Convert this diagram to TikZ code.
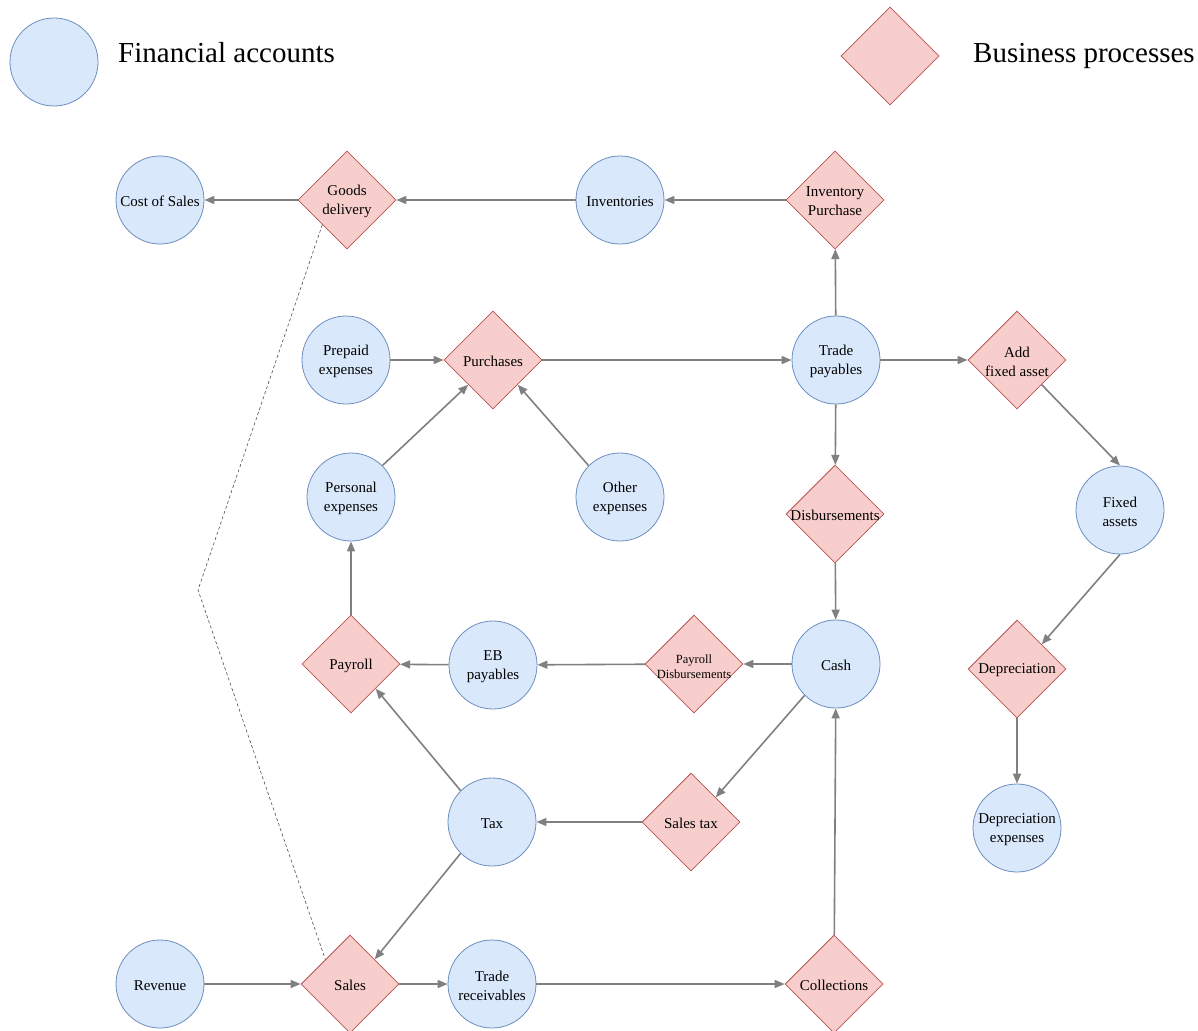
\documentclass[tikz,border=0pt]{standalone}
\usepackage{fontspec}
\setmainfont{Liberation Serif}
\usetikzlibrary{shapes.geometric,arrows.meta}
\definecolor{accfill}{HTML}{DAE8FC}
\definecolor{accdraw}{HTML}{6C8EBF}
\definecolor{procfill}{HTML}{F8CECC}
\definecolor{procdraw}{HTML}{B85450}
\definecolor{edgegray}{HTML}{808080}
\begin{document}
\begin{tikzpicture}[x=1pt,y=-1pt,
 acct/.style={circle,fill=accfill,draw=accdraw,line width=0.8pt,minimum size=88pt,inner sep=0pt},
 proc/.style={diamond,aspect=1,fill=procfill,draw=procdraw,line width=0.8pt,minimum size=98pt,inner sep=0pt},
 txt/.style={font=\fontsize{15}{19}\selectfont,align=center,inner sep=0pt,yshift=-1.5pt},
 smalltxt/.style={font=\fontsize{12.5}{15}\selectfont,align=center,inner sep=0pt,yshift=-3pt},
 legtxt/.style={font=\fontsize{29}{34}\selectfont,inner sep=0pt},
 flow/.style={draw=edgegray,line width=1.6pt,-{Triangle[length=10pt,width=8pt]}},
 link/.style={draw=black!70,line width=0.6pt,dash pattern=on 3pt off 2.5pt}]
\useasboundingbox (0,0) rectangle (1198,1030);
% legend
\node[acct] (legacc) at (54,62) {};
\node[legtxt,anchor=base west] (legacctxt) at (118,63) {Financial accounts};
\node[proc] (legproc) at (890,56) {};
\node[legtxt,anchor=base west] (legproctxt) at (973,63) {Business processes};
% nodes
\node[acct,label={[txt]center:Cost of Sales}] (cos) at (160,200) {};
\node[proc,label={[txt]center:Goods\\delivery}] (gd) at (347,200) {};
\node[acct,label={[txt]center:Inventories}] (inv) at (620,200) {};
\node[proc,label={[txt]center:Inventory\\Purchase}] (ip) at (835,200) {};
\node[acct,label={[txt]center:Prepaid\\expenses}] (pre) at (346,360) {};
\node[proc,label={[txt]center:Purchases}] (pur) at (493,360) {};
\node[acct,label={[txt]center:Trade\\payables}] (tp) at (836,360) {};
\node[proc,label={[txt]center:Add\\fixed asset}] (afa) at (1017,360) {};
\node[acct,label={[txt]center:Personal\\expenses}] (pe) at (351,497) {};
\node[acct,label={[txt]center:Other\\expenses}] (oe) at (620,497) {};
\node[proc,label={[txt]center:Disbursements}] (dis) at (835,514) {};
\node[acct,label={[txt]center:Fixed\\assets}] (fa) at (1120,510) {};
\node[proc,label={[txt]center:Payroll}] (pay) at (351,664) {};
\node[acct,label={[txt]center:EB\\payables}] (eb) at (493,665) {};
\node[proc,label={[smalltxt]center:Payroll\\Disbursements}] (pd) at (694,664) {};
\node[acct,label={[txt]center:Cash}] (cash) at (836,664) {};
\node[proc,label={[txt]center:Depreciation}] (dep) at (1017,669) {};
\node[acct,label={[txt]center:Tax}] (tax) at (492,822) {};
\node[proc,label={[txt]center:Sales tax}] (st) at (691,822) {};
\node[acct,label={[txt]center:Depreciation\\expenses}] (de) at (1017,828) {};
\node[acct,label={[txt]center:Revenue}] (rev) at (160,984) {};
\node[proc,label={[txt]center:Sales}] (sales) at (350,984) {};
\node[acct,label={[txt]center:Trade\\receivables}] (tr) at (492,984) {};
\node[proc,label={[txt]center:Collections}] (col) at (834,984) {};
% connectors
\draw[flow] (gd) -- (cos);
\draw[flow] (inv) -- (gd);
\draw[flow] (ip) -- (inv);
\draw[flow] (tp) -- (ip);
\draw[flow] (pre) -- (pur);
\draw[flow] (pur) -- (tp);
\draw[flow] (tp) -- (afa);
\draw[flow] (afa.south east) -- (fa.north);
\draw[flow] (pe.north east) -- (pur.south west);
\draw[flow] (oe.north west) -- (pur.south east);
\draw[flow] (tp) -- (dis);
\draw[flow] (dis) -- (cash);
\draw[flow] (fa.south) -- (dep.north east);
\draw[flow] (dep) -- (de);
\draw[flow] (cash) -- (pd);
\draw[flow] (pd) -- (eb);
\draw[flow] (eb) -- (pay);
\draw[flow] (pay) -- (pe);
\draw[flow] (tax.north west) -- (pay.south east);
\draw[flow] (cash.south west) -- (st.north east);
\draw[flow] (st) -- (tax);
\draw[flow] (tax.south west) -- (sales.north east);
\draw[flow] (rev) -- (sales);
\draw[flow] (sales) -- (tr);
\draw[flow] (tr) -- (col);
\draw[flow] (col) -- (cash);
\coordinate (bendpt) at (198,590);
\draw[link] (gd.south west) -- (bendpt) -- (sales.north west);
\end{tikzpicture}
\end{document}
